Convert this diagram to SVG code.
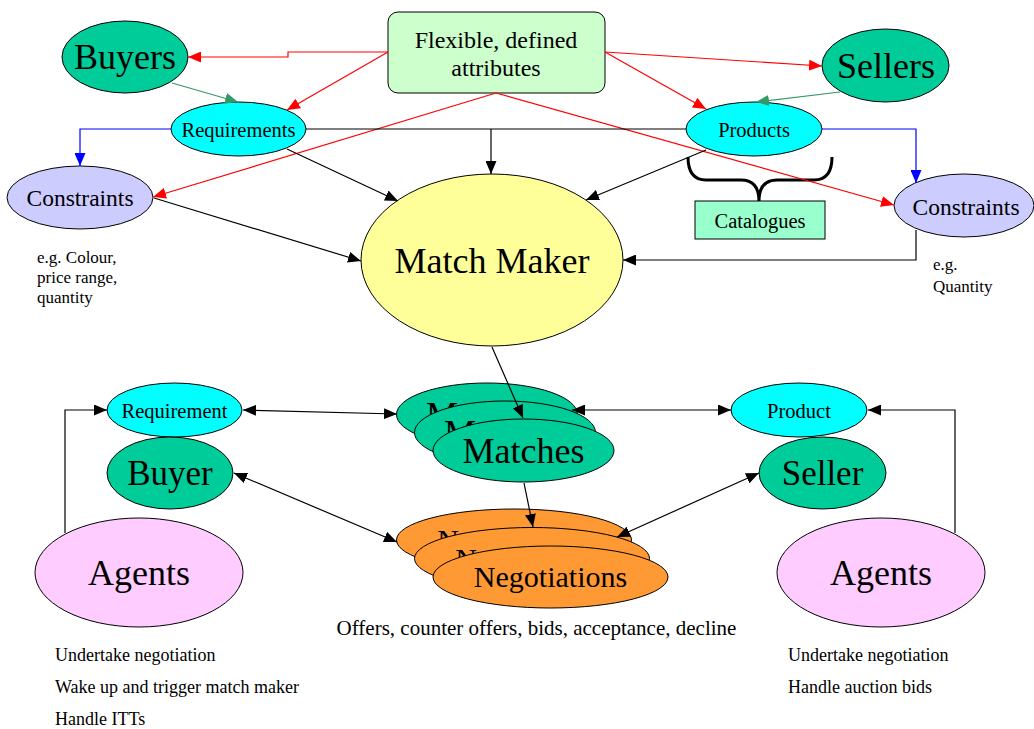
<svg xmlns="http://www.w3.org/2000/svg" width="1034" height="729" viewBox="0 0 1034 729">
<style>
text{font-family:"Liberation Serif","Times New Roman",serif;fill:#000}
.n{stroke:#000;stroke-width:1}
.c{text-anchor:middle}
.k{fill:none;stroke:#000;stroke-width:1.2}
.r{fill:none;stroke:#ff0000;stroke-width:1.2}
.g{fill:none;stroke:#339966;stroke-width:1.2}
.b{fill:none;stroke:#0000ff;stroke-width:1.2}
.note{font-size:17px}
.note2{font-size:18px}
</style>
<defs>
<marker id="ak" markerUnits="userSpaceOnUse" markerWidth="13" markerHeight="11" refX="13" refY="5.5" orient="auto-start-reverse"><path d="M0,0 L13,5.5 L0,11 z" fill="#000"/></marker>
<marker id="ar" markerUnits="userSpaceOnUse" markerWidth="13" markerHeight="11" refX="13" refY="5.5" orient="auto"><path d="M0,0 L13,5.5 L0,11 z" fill="#ff0000"/></marker>
<marker id="ag" markerUnits="userSpaceOnUse" markerWidth="13" markerHeight="11" refX="13" refY="5.5" orient="auto"><path d="M0,0 L13,5.5 L0,11 z" fill="#339966"/></marker>
<marker id="ab" markerUnits="userSpaceOnUse" markerWidth="13" markerHeight="11" refX="13" refY="5.5" orient="auto"><path d="M0,0 L13,5.5 L0,11 z" fill="#0000ff"/></marker>
</defs>

<g id="flexible">
<rect class="n" x="388" y="12" width="217" height="81" rx="10" fill="#ccffcc"/>
<text class="c" x="496" y="48" font-size="24">Flexible, defined</text>
<text class="c" x="496" y="76" font-size="24">attributes</text>
</g>
<g id="buyers"><ellipse class="n" cx="125" cy="57" rx="63" ry="36" fill="#00cc99"/><text class="c" x="125" y="69" font-size="36">Buyers</text></g>
<g id="sellers"><ellipse class="n" cx="885.5" cy="65.5" rx="63.5" ry="36.5" fill="#00cc99"/><text class="c" x="886" y="78" font-size="36">Sellers</text></g>
<g id="requirements"><ellipse class="n" cx="238.5" cy="129" rx="67.5" ry="27" fill="#00ffff"/><text class="c" x="238.5" y="137" font-size="20.5">Requirements</text></g>
<g id="products"><ellipse class="n" cx="754" cy="129" rx="68" ry="27" fill="#00ffff"/><text class="c" x="754" y="137" font-size="20.5">Products</text></g>
<g id="constraints-left"><ellipse class="n" cx="80" cy="197.5" rx="73" ry="31.5" fill="#ccccff"/><text class="c" x="80" y="206" font-size="23.5">Constraints</text></g>
<g id="constraints-right"><ellipse class="n" cx="964" cy="205.5" rx="70" ry="31.5" fill="#ccccff"/><text class="c" x="966" y="215" font-size="23.5">Constraints</text></g>
<g id="match-maker"><ellipse class="n" cx="492" cy="260" rx="131" ry="86" fill="#ffff99"/><text class="c" x="492" y="273" font-size="36">Match Maker</text></g>
<g id="catalogues">
<path d="M688,157 Q688,180 706,180 L741,180 Q759,180 759,201 Q759,180 777,180 L814,180 Q832,180 832,157" fill="none" stroke="#000" stroke-width="3"/>
<rect class="n" x="695" y="201" width="130" height="38" fill="#99ffcc"/>
<text class="c" x="760" y="228" font-size="20.5">Catalogues</text>
</g>
<g id="notes-top">
<text class="note" x="37" y="263">e.g. Colour,</text>
<text class="note" x="37" y="283">price range,</text>
<text class="note" x="37" y="303">quantity</text>
<text class="note" x="933" y="270">e.g.</text>
<text class="note" x="933" y="292">Quantity</text>
</g>

<g id="requirement"><ellipse class="n" cx="174.5" cy="410" rx="67.5" ry="27" fill="#00ffff"/><text class="c" x="174.5" y="418" font-size="20.5">Requirement</text></g>
<g id="buyer"><ellipse class="n" cx="170" cy="473" rx="63" ry="36" fill="#00cc99"/><text class="c" x="170" y="485" font-size="35">Buyer</text></g>
<g id="agents-left"><ellipse class="n" cx="139" cy="572.5" rx="104" ry="54.5" fill="#ffccff"/><text class="c" x="139" y="585" font-size="36">Agents</text></g>
<g id="product"><ellipse class="n" cx="799" cy="410" rx="68" ry="27" fill="#00ffff"/><text class="c" x="799" y="418" font-size="20.5">Product</text></g>
<g id="seller"><ellipse class="n" cx="822.5" cy="473" rx="63.5" ry="36" fill="#00cc99"/><text class="c" x="822.5" y="485" font-size="35">Seller</text></g>
<g id="agents-right"><ellipse class="n" cx="881" cy="572.5" rx="104" ry="54.5" fill="#ffccff"/><text class="c" x="881" y="585" font-size="36">Agents</text></g>

<g id="matches">
<ellipse class="n" cx="487" cy="414.5" rx="90.5" ry="31.5" fill="#00cc99"/><text class="c" x="487" y="427" font-size="36">Matches</text>
<ellipse class="n" cx="505" cy="432.5" rx="90.5" ry="31.5" fill="#00cc99"/><text class="c" x="505" y="445" font-size="36">Matches</text>
<ellipse class="n" cx="523.5" cy="450.5" rx="90.5" ry="31.5" fill="#00cc99"/><text class="c" x="523.5" y="463" font-size="36">Matches</text>
</g>
<g id="negotiations">
<ellipse class="n" cx="514" cy="540" rx="117.5" ry="31" fill="#ff9933"/><text class="c" x="514" y="550" font-size="30">Negotiations</text>
<ellipse class="n" cx="532" cy="558.5" rx="117.5" ry="31" fill="#ff9933"/><text class="c" x="532" y="568.5" font-size="30">Negotiations</text>
<ellipse class="n" cx="550.5" cy="577" rx="117.5" ry="31" fill="#ff9933"/><text class="c" x="550.5" y="587" font-size="30">Negotiations</text>
</g>
<g id="notes-bottom">
<text x="536.5" y="635" font-size="21" text-anchor="middle">Offers, counter offers, bids, acceptance, decline</text>
<text class="note2" x="55" y="661">Undertake negotiation</text>
<text class="note2" x="55" y="693">Wake up and trigger match maker</text>
<text class="note2" x="55" y="725">Handle ITTs</text>
<text class="note2" x="788" y="661">Undertake negotiation</text>
<text class="note2" x="788" y="693">Handle auction bids</text>
</g>

<g id="connectors">
<path class="r" d="M388,52 H288 V57 H188" marker-end="url(#ar)"/>
<path class="r" d="M388,52 L287,110" marker-end="url(#ar)"/>
<path class="r" d="M496,93 L153,197" marker-end="url(#ar)"/>
<path class="r" d="M496,93 L894,205" marker-end="url(#ar)"/>
<path class="r" d="M605,52 L822,66" marker-end="url(#ar)"/>
<path class="r" d="M605,52 L706,109" marker-end="url(#ar)"/>
<path class="g" d="M172,83 L238,102" marker-end="url(#ag)"/>
<path class="g" d="M840,92 L756,102" marker-end="url(#ag)"/>
<path class="b" d="M171,129 H80 V166" marker-end="url(#ab)"/>
<path class="b" d="M822,129 H916 V183" marker-end="url(#ab)"/>
<path class="k" d="M306,129 H686"/>
<path class="k" d="M491,129 V174" marker-end="url(#ak)"/>
<path class="k" d="M287,149 L398,201" marker-end="url(#ak)"/>
<path class="k" d="M154,198 L361,261" marker-end="url(#ak)"/>
<path class="k" d="M706,150 L586,200" marker-end="url(#ak)"/>
<path class="k" d="M916,230 V260 H623" marker-end="url(#ak)"/>
<path class="k" d="M492,347 L523,418" marker-end="url(#ak)"/>
<path class="k" d="M524,483 L533,527" marker-end="url(#ak)"/>
<path class="k" d="M243,410 L397,414" marker-start="url(#ak)" marker-end="url(#ak)"/>
<path class="k" d="M572,410 L731,410" marker-start="url(#ak)" marker-end="url(#ak)"/>
<path class="k" d="M234,473 L397,542" marker-start="url(#ak)" marker-end="url(#ak)"/>
<path class="k" d="M617,537 L759,473" marker-start="url(#ak)" marker-end="url(#ak)"/>
<path class="k" d="M65,533 V410 H107" marker-end="url(#ak)"/>
<path class="k" d="M955,533 V410 H868" marker-end="url(#ak)"/>
</g>
</svg>
